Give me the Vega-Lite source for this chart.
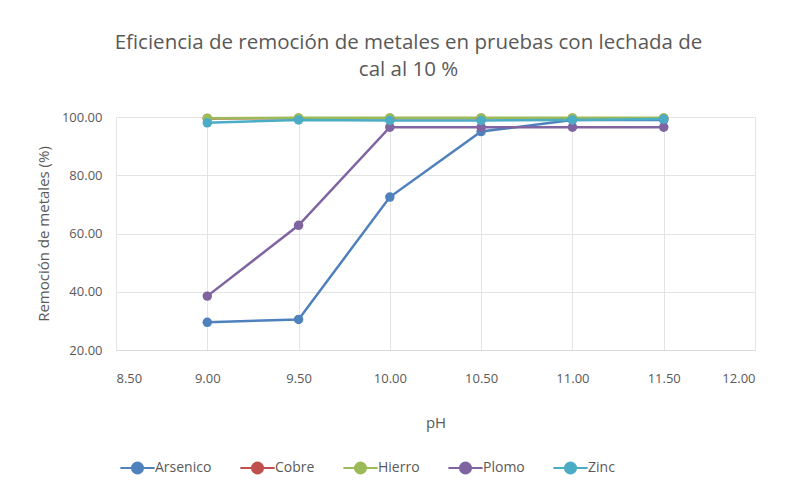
{
  "$schema": "https://vega.github.io/schema/vega-lite/v6.json",
  "autosize": {"type": "none"},
  "width": 639,
  "height": 233,
  "padding": {"left": 116, "top": 117, "right": 37, "bottom": 149},
  "background": "white",
  "title": {
    "text": ["Eficiencia de remoción de metales en pruebas con lechada de", "cal al 10 %"],
    "anchor": "middle",
    "dx": -27,
    "offset": 31,
    "fontSize": 20.5,
    "fontWeight": "normal",
    "font": "Open Sans",
    "color": "#595959",
    "lineHeight": 27
  },
  "data": {
    "values": [
      {"metal": "Arsenico", "pH": 9.0, "v": 29.5},
      {"metal": "Arsenico", "pH": 9.5, "v": 30.5},
      {"metal": "Arsenico", "pH": 10.0, "v": 72.5},
      {"metal": "Arsenico", "pH": 10.5, "v": 95.0},
      {"metal": "Arsenico", "pH": 11.0, "v": 99.0},
      {"metal": "Arsenico", "pH": 11.5, "v": 99.0},
      {"metal": "Cobre", "pH": 9.0, "v": 99.5},
      {"metal": "Cobre", "pH": 9.5, "v": 99.6},
      {"metal": "Cobre", "pH": 10.0, "v": 99.6},
      {"metal": "Cobre", "pH": 10.5, "v": 99.6},
      {"metal": "Cobre", "pH": 11.0, "v": 99.6},
      {"metal": "Cobre", "pH": 11.5, "v": 99.6},
      {"metal": "Hierro", "pH": 9.0, "v": 99.6},
      {"metal": "Hierro", "pH": 9.5, "v": 99.7},
      {"metal": "Hierro", "pH": 10.0, "v": 99.7},
      {"metal": "Hierro", "pH": 10.5, "v": 99.7},
      {"metal": "Hierro", "pH": 11.0, "v": 99.7},
      {"metal": "Hierro", "pH": 11.5, "v": 99.7},
      {"metal": "Plomo", "pH": 9.0, "v": 38.5},
      {"metal": "Plomo", "pH": 9.5, "v": 62.8},
      {"metal": "Plomo", "pH": 10.0, "v": 96.5},
      {"metal": "Plomo", "pH": 10.5, "v": 96.5},
      {"metal": "Plomo", "pH": 11.0, "v": 96.5},
      {"metal": "Plomo", "pH": 11.5, "v": 96.5},
      {"metal": "Zinc", "pH": 9.0, "v": 98.0},
      {"metal": "Zinc", "pH": 9.5, "v": 99.0},
      {"metal": "Zinc", "pH": 10.0, "v": 98.8},
      {"metal": "Zinc", "pH": 10.5, "v": 98.8},
      {"metal": "Zinc", "pH": 11.0, "v": 99.0},
      {"metal": "Zinc", "pH": 11.5, "v": 99.3}
    ]
  },
  "encoding": {
    "x": {
      "field": "pH", "type": "quantitative",
      "scale": {"domain": [8.5, 12], "nice": false, "zero": false},
      "axis": {
        "title": "pH", "values": [8.5, 9, 9.5, 10, 10.5, 11, 11.5, 12], "format": ".2f",
        "labelPadding": 22, "titlePadding": 30, "ticks": false,
        "domainColor": "#D9D9D9", "gridColor": "#E3E3E3"
      }
    },
    "y": {
      "field": "v", "type": "quantitative",
      "scale": {"domain": [20, 100], "nice": false, "zero": false},
      "axis": {
        "title": "Remoción de metales (%)", "values": [20, 40, 60, 80, 100], "format": ".2f",
        "labelPadding": 14, "titlePadding": 10, "ticks": false, "domain": false,
        "gridColor": "#E3E3E3"
      }
    },
    "color": {
      "field": "metal", "type": "nominal",
      "scale": {
        "domain": ["Arsenico", "Cobre", "Hierro", "Plomo", "Zinc"],
        "range": ["#4F81BD", "#C0504D", "#9BBB59", "#8064A2", "#4BACC6"]
      },
      "legend": {
        "orient": "none", "legendX": 8, "legendY": 337, "direction": "horizontal",
        "title": null,
        "symbolType": "M -1.4 0 L 1.4 0 M 0.45 0 A 0.45 0.45 0 1 1 -0.45 0 A 0.45 0.45 0 1 1 0.45 0 Z",
        "symbolSize": 600, "symbolStrokeWidth": 2, "columnPadding": 24, "labelOffset": 4
      }
    },
    "order": {"field": "pH", "type": "quantitative"}
  },
  "layer": [
    {"mark": {"type": "line", "strokeWidth": 2.5}},
    {"mark": {"type": "point", "filled": true, "size": 90, "opacity": 1}}
  ],
  "config": {
    "font": "Open Sans",
    "view": {"stroke": null},
    "axis": {
      "labelColor": "#595959", "titleColor": "#595959", "labelFontSize": 13,
      "titleFontSize": 15, "titleFontWeight": "normal", "labelFont": "Open Sans", "titleFont": "Open Sans"
    },
    "legend": {"labelColor": "#595959", "labelFontSize": 14, "labelFont": "Open Sans"}
  }
}
